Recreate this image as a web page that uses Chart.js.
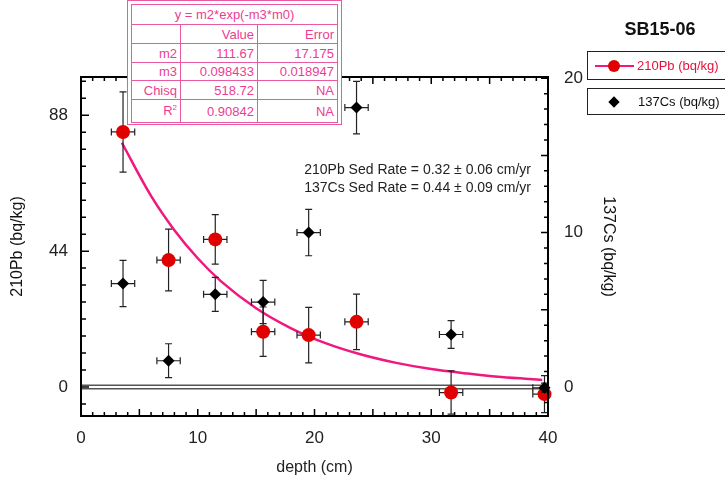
<!DOCTYPE html>
<html>
<head>
<meta charset="utf-8">
<script src="https://cdn.jsdelivr.net/npm/chart.js@4.4.0/dist/chart.umd.min.js"></script>
<style>
  body { margin: 0; background: #fff; font-family: "Liberation Sans", Arial, sans-serif; }
  #wrap { position: relative; width: 725px; height: 484px; overflow: hidden; }
  #titulo { position: absolute; left: 595px; top: 19px; width: 130px; text-align: center; font-weight: bold; font-size: 18px; color: #111; }
  .caja { position: absolute; left: 587px; width: 140px; border: 1px solid #222; box-sizing: border-box; background: #fff; }
  .caja span { position: absolute; font-size: 13px; }
  #tasas { position: absolute; left: 200px; width: 331px; top: 160px; text-align: right; font-size: 14px; line-height: 18px; color: #222; }
  #tabla { position: absolute; left: 127px; top: 0; width: 215px; height: 125px; border: 1.5px solid #ea5aa3; box-sizing: border-box; padding: 3px; background: #fff; }
  #tabla table { border-collapse: collapse; width: 100%; height: 100%; font-size: 13px; color: #ec3d93; }
  #tabla td { border: 1px solid #ea5aa3; text-align: right; padding: 0 3px; }
</style>
</head>
<body>
<div id="wrap">
  <canvas id="grafico" width="725" height="484"></canvas>
  <div id="titulo">SB15-06</div>
  <div class="caja" style="top:51px;height:29px;">
    <div style="position:absolute;left:7px;top:13px;width:39px;height:2px;background:#f0177f;"></div>
    <div style="position:absolute;left:20px;top:8px;width:12px;height:12px;border-radius:50%;background:#e00000;"></div>
    <span style="left:49px;top:6px;color:#e8103a;">210Pb (bq/kg)</span>
  </div>
  <div class="caja" style="top:88px;height:27px;">
    <div style="position:absolute;left:22px;top:9px;width:8px;height:8px;background:#000;transform:rotate(45deg);"></div>
    <span style="left:50px;top:5px;color:#111;">137Cs (bq/kg)</span>
  </div>
  <div id="tasas">210Pb Sed Rate = 0.32 ± 0.06 cm/yr<br>137Cs Sed Rate = 0.44 ± 0.09 cm/yr</div>
  <div id="tabla">
    <table>
      <tr style="height:20px"><td colspan="3" style="text-align:center">y = m2*exp(-m3*m0)</td></tr>
      <tr style="height:19px"><td style="width:42px"></td><td style="width:70px">Value</td><td>Error</td></tr>
      <tr style="height:19px"><td>m2</td><td>111.67</td><td>17.175</td></tr>
      <tr style="height:18px"><td>m3</td><td>0.098433</td><td>0.018947</td></tr>
      <tr style="height:19px"><td>Chisq</td><td>518.72</td><td>NA</td></tr>
      <tr style="height:23px"><td>R<sup style="font-size:8px">2</sup></td><td>0.90842</td><td>NA</td></tr>
    </table>
  </div>
</div>
<script>
// datos
var profundidad = [3.6, 7.5, 11.5, 15.6, 19.5, 23.6, 31.7, 39.7];
var errProf = [1, 1, 1, 1, 1, 1, 1, 1];
var pb210 = [82.6, 41.1, 47.8, 17.9, 16.8, 21.1, -1.8, -2.3];
var errPb = [13, 10, 8, 8, 9, 9, 7, 6];
var cs137 = [6.7, 1.7, 6.0, 5.5, 10.0, 18.1, 3.4, -0.05];
var errCs = [1.5, 1.1, 1.1, 1.4, 1.5, 1.7, 0.9, 0.3];

// curva de ajuste
var ajusteX = [3.5, 6, 8, 10, 12, 15, 18, 21, 24, 27, 30, 33, 36, 39.5];
var ajusteY = [79.1, 61.9, 50.8, 41.7, 34.2, 25.5, 19.0, 14.1, 10.5, 7.8, 5.8, 4.4, 3.2, 2.3];

var ticksX = [0, 10, 20, 30, 40];
var ticksPb = [0, 44, 88];
var ticksCs = [0, 10, 20];

function puntos(xs, ys) {
  return xs.map(function (x, i) { return { x: x, y: ys[i] }; });
}

// barras de error, debajo de cada serie
var barrasError = {
  id: "barrasError",
  beforeDatasetDraw: function (chart, args) {
    var ds = chart.data.datasets[args.index];
    if (!ds.errY) return;
    var sx = chart.scales.x, sy = chart.scales[ds.yAxisID];
    var c = chart.ctx, a = chart.chartArea;
    c.save();
    c.beginPath();
    c.rect(a.left, a.top, a.right - a.left, a.bottom - a.top);
    c.clip();
    c.strokeStyle = "#222";
    c.lineWidth = 1.2;
    ds.data.forEach(function (p, i) {
      var px = sx.getPixelForValue(p.x), py = sy.getPixelForValue(p.y);
      var x0 = sx.getPixelForValue(p.x - ds.errX[i]), x1 = sx.getPixelForValue(p.x + ds.errX[i]);
      var y0 = sy.getPixelForValue(p.y - ds.errY[i]), y1 = sy.getPixelForValue(p.y + ds.errY[i]);
      c.beginPath();
      c.moveTo(x0, py); c.lineTo(x1, py);
      c.moveTo(x0, py - 3.5); c.lineTo(x0, py + 3.5);
      c.moveTo(x1, py - 3.5); c.lineTo(x1, py + 3.5);
      c.moveTo(px, y0); c.lineTo(px, y1);
      c.moveTo(px - 3.5, y0); c.lineTo(px + 3.5, y0);
      c.moveTo(px - 3.5, y1); c.lineTo(px + 3.5, y1);
      c.stroke();
    });
    c.restore();
  }
};

// marco con marcas hacia adentro
var marco = {
  id: "marco",
  afterDatasetsDraw: function (chart) {
    var c = chart.ctx, a = chart.chartArea, s = chart.scales;
    c.save();
    c.strokeStyle = "#000";
    c.lineWidth = 2;
    c.strokeRect(a.left, a.top, a.right - a.left, a.bottom - a.top);
    c.lineWidth = 1.5;
    c.beginPath();
    for (var v = 1; v < 40; v++) {
      var px = s.x.getPixelForValue(v), l = v % 5 === 0 ? 7 : 4;
      c.moveTo(px, a.bottom); c.lineTo(px, a.bottom - l);
      c.moveTo(px, a.top); c.lineTo(px, a.top + l);
    }
    for (var k = -1; k <= 18; k++) {
      var py = s.y.getPixelForValue(k * 5.5), l2 = k % 8 === 0 ? 8 : 5;
      c.moveTo(a.left, py); c.lineTo(a.left + l2, py);
    }
    for (var j = -1; j <= 20; j++) {
      var py2 = s.y2.getPixelForValue(j), l3 = j % 5 === 0 ? 7 : 4;
      c.moveTo(a.right, py2); c.lineTo(a.right - l3, py2);
    }
    c.stroke();
    c.restore();
  }
};

var ctx = document.getElementById("grafico").getContext("2d");

var myChart = new Chart(ctx, {
  type: "scatter",
  data: {
    datasets: [
      {
        label: "137Cs (bq/kg)",
        data: puntos(profundidad, cs137),
        errX: errProf,
        errY: errCs,
        yAxisID: "y2",
        pointStyle: "rectRot",
        pointRadius: 6,
        pointBackgroundColor: "#000",
        pointBorderWidth: 0,
        showLine: false,
        clip: 8,
        order: 0
      },
      {
        label: "210Pb (bq/kg)",
        data: puntos(profundidad, pb210),
        errX: errProf,
        errY: errPb,
        yAxisID: "y",
        pointStyle: "circle",
        pointRadius: 7,
        pointBackgroundColor: "#e00000",
        pointBorderWidth: 0,
        showLine: false,
        clip: 8,
        order: 1
      },
      {
        label: "ajuste",
        data: puntos(ajusteX, ajusteY),
        yAxisID: "y",
        showLine: true,
        borderColor: "#f0177f",
        borderWidth: 2.5,
        pointRadius: 0,
        cubicInterpolationMode: "monotone",
        order: 3
      },
      {
        label: "cero",
        data: puntos([0, 40], [0, 0]),
        yAxisID: "y",
        showLine: true,
        borderColor: "#fff",
        borderWidth: 2,
        pointRadius: 0,
        order: 9
      },
      {
        label: "cero borde",
        data: puntos([0, 40], [0, 0]),
        yAxisID: "y",
        showLine: true,
        borderColor: "#555",
        borderWidth: 5,
        pointRadius: 0,
        order: 10
      }
    ]
  },
  options: {
    responsive: false,
    animation: false,
    layout: { padding: { top: 77 } },
    plugins: {
      legend: { display: false },
      tooltip: { enabled: false }
    },
    scales: {
      x: {
        type: "linear",
        position: "bottom",
        min: 0,
        max: 40,
        afterBuildTicks: function (s) { s.ticks = ticksX.map(function (v) { return { value: v }; }); },
        afterFit: function (s) { s.height = 68; },
        grid: { display: false, drawTicks: false },
        border: { display: false },
        ticks: { color: "#222", padding: 12, font: { family: "Liberation Sans", size: 17 } },
        title: { display: true, text: "depth (cm)", color: "#222", padding: { bottom: 7 }, font: { family: "Liberation Sans", size: 16 } }
      },
      y: {
        type: "linear",
        position: "left",
        min: -9.4,
        max: 100.4,
        afterBuildTicks: function (s) { s.ticks = ticksPb.map(function (v) { return { value: v }; }); },
        afterFit: function (s) { s.width = 81; },
        grid: { display: false, drawTicks: false },
        border: { display: false },
        ticks: { color: "#222", padding: 13, font: { family: "Liberation Sans", size: 17 } },
        title: { display: true, text: "210Pb (bq/kg)", color: "#111", padding: { top: 8 }, font: { family: "Liberation Sans", size: 16 } }
      },
      y2: {
        type: "linear",
        position: "right",
        min: -1.88,
        max: 20.08,
        afterBuildTicks: function (s) { s.ticks = ticksCs.map(function (v) { return { value: v }; }); },
        afterFit: function (s) { s.width = 177; },
        grid: { display: false, drawTicks: false },
        border: { display: false },
        ticks: { color: "#222", padding: 16, font: { family: "Liberation Sans", size: 17 } },
        title: { display: true, text: "137Cs (bq/kg)", color: "#111", padding: { top: 107 }, font: { family: "Liberation Sans", size: 16 } }
      }
    }
  },
  plugins: [barrasError, marco]
});
</script>
</body>
</html>
